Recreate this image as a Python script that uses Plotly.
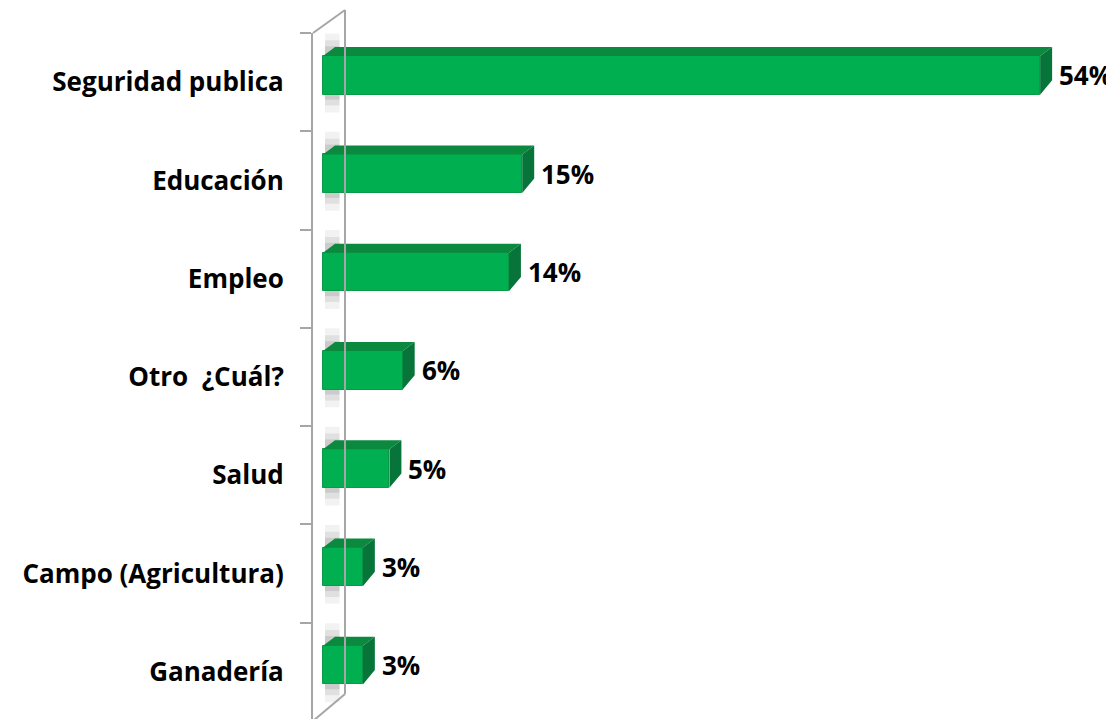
"""
Prioridades ciudadanas - horizontal 3D-style bar chart rebuilt with Plotly.
"""

import plotly.graph_objects as go

# ==================== DATA ====================
categories = [
    "Seguridad publica",
    "Educación",
    "Empleo",
    "Otro \u00a0¿Cuál?",
    "Salud",
    "Campo (Agricultura)",
    "Ganadería",
]
values = [54, 15, 14, 6, 5, 3, 3]
value_labels = [f"{v}%" for v in values]

# ==================== STYLE ====================
FONT = "Open Sans"
FRONT = "#00b050"
TOP = "#0b8a3f"
SIDE = "#07753a"
WALL = "#a6a6a6"

PAGE_PAD = 8                 # default body margin of the html page
W, H = 1114, 719
M_L, M_R, M_T, M_B = 313 - PAGE_PAD, 0, 33 - PAGE_PAD, 6
PX_PER_UNIT = 13.28          # pixels per percentage point
ZERO_PX = 323 - PAGE_PAD     # pixel where value 0 sits
X_MIN = -(ZERO_PX - M_L) / PX_PER_UNIT
X_MAX = (W - M_R - ZERO_PX) / PX_PER_UNIT
CAT_PX = (H - M_T - M_B) / len(categories)

BAR_OFFSET = -0.265          # bar front face, in category units
BAR_WIDTH = 0.393
DEPTH_X = 12 / PX_PER_UNIT   # 3D depth offsets
DEPTH_Y = 9 / CAT_PX

idx = list(range(len(categories)))

fig = go.Figure()

# wall shadows behind each bar
for k, alpha in [(0.18, 0.05), (0.11, 0.07), (0.05, 0.09)]:
    for i in idx:
        fig.add_shape(
            type="rect", xref="x", yref="y2",
            x0=0.15, x1=1.25,
            y0=i + BAR_OFFSET - k - 0.05, y1=i + BAR_OFFSET + BAR_WIDTH + k,
            fillcolor=f"rgba(0,0,0,{alpha})", line_width=0, layer="below",
        )

# front faces
fig.add_trace(go.Bar(
    x=values, y=categories, orientation="h",
    width=BAR_WIDTH, offset=BAR_OFFSET,
    marker=dict(color=FRONT, line=dict(color="#0a9a48", width=1)),
    hoverinfo="skip", showlegend=False,
))

# top and side faces
top_x, top_y, side_x, side_y = [], [], [], []
for i, v in zip(idx, values):
    y_top = i + BAR_OFFSET
    y_bot = y_top + BAR_WIDTH
    top_x += [0, v, v + DEPTH_X, DEPTH_X, 0, None]
    top_y += [y_top, y_top, y_top - DEPTH_Y, y_top - DEPTH_Y, y_top, None]
    side_x += [v, v + DEPTH_X, v + DEPTH_X, v, v, None]
    side_y += [y_top, y_top - DEPTH_Y, y_bot - DEPTH_Y * 1.6, y_bot, y_top, None]

fig.add_trace(go.Scatter(
    x=top_x, y=top_y, yaxis="y2", mode="lines", fill="toself",
    fillcolor=TOP, line=dict(width=0, color=TOP),
    hoverinfo="skip", showlegend=False,
))
fig.add_trace(go.Scatter(
    x=side_x, y=side_y, yaxis="y2", mode="lines", fill="toself",
    fillcolor=SIDE, line=dict(width=0, color=SIDE),
    hoverinfo="skip", showlegend=False,
))

# value labels
for i, v, lab in zip(idx, values, value_labels):
    fig.add_annotation(
        x=v, y=i + BAR_OFFSET + BAR_WIDTH / 2, xref="x", yref="y2",
        text=f"<b>{lab}</b>", showarrow=False,
        xanchor="left", yanchor="middle", xshift=DEPTH_X * PX_PER_UNIT + 5,
        font=dict(family=FONT, size=26, color="#000000"),
    )

# side wall outline (back edge + top/bottom diagonals)
plot_w = W - M_L - M_R
plot_h = H - M_T - M_B
wall_dx = 32 / plot_w
wall_top = 1 + 23 / plot_h
wall_bot = 27 / plot_h
for x0, y0, x1, y1 in [
    (wall_dx, wall_bot, wall_dx, wall_top),
    (0, 1, wall_dx, wall_top),
    (0, 0, wall_dx, wall_bot),
]:
    fig.add_shape(type="line", xref="paper", yref="paper",
                  x0=x0, y0=y0, x1=x1, y1=y1,
                  line=dict(color=WALL, width=2))

fig.update_layout(
    width=W, height=H,
    margin=dict(l=M_L, r=M_R, t=M_T, b=M_B),
    paper_bgcolor="white", plot_bgcolor="white",
    bargap=0,
    xaxis=dict(range=[X_MIN, X_MAX], visible=False, fixedrange=True),
    yaxis=dict(
        type="category", categoryorder="array", categoryarray=categories,
        range=[len(categories) - 0.5, -0.5],
        showline=True, linecolor=WALL, linewidth=2,
        ticks="outside", ticklen=11, tickcolor=WALL, tickwidth=2,
        tickson="boundaries", showgrid=False, zeroline=False,
        ticklabelstandoff=22,
        tickfont=dict(family=FONT, size=26, color="#000000", weight="bold"),
    ),
    yaxis2=dict(
        overlaying="y", range=[len(categories) - 0.5, -0.5],
        visible=False, showgrid=False,
    ),
)

fig.write_html("out.html")
